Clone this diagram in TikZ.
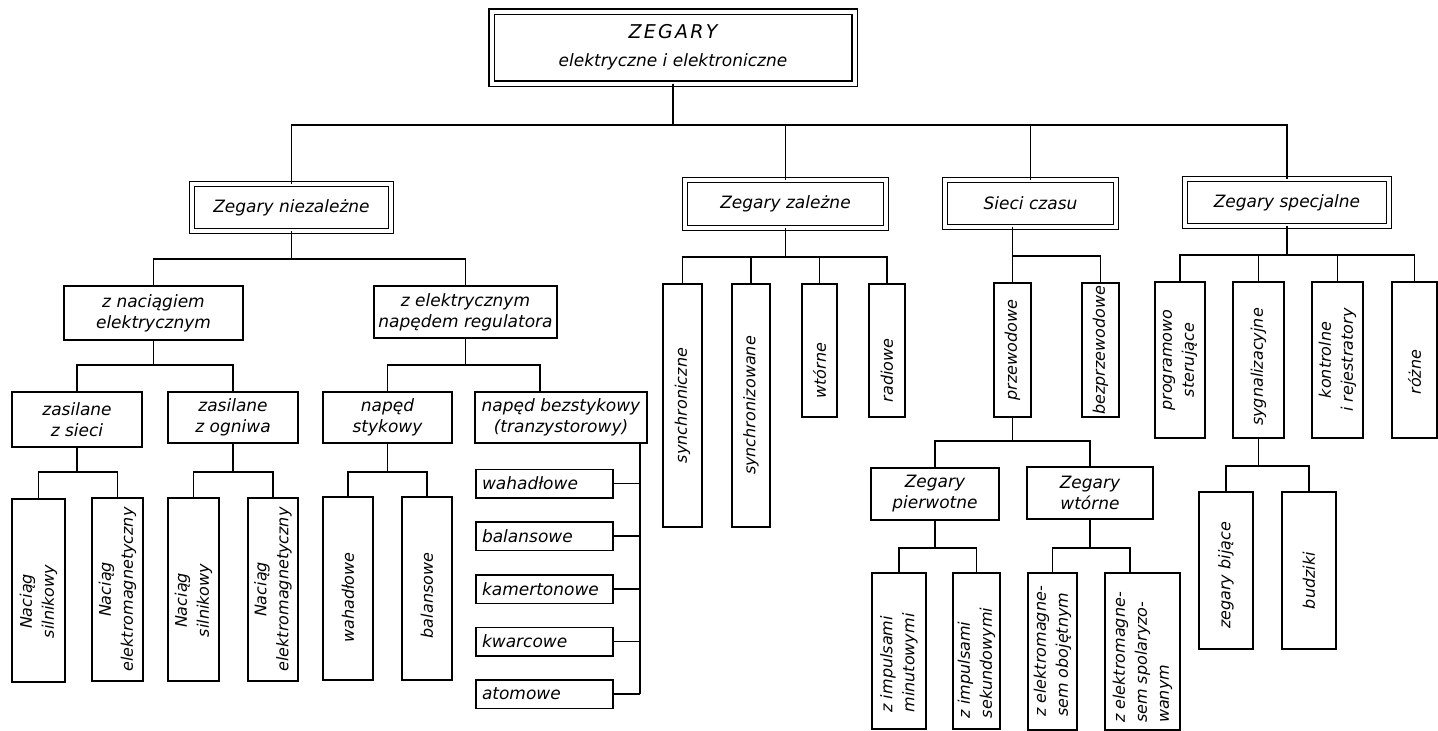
\documentclass[tikz,border=0pt]{standalone}
\usepackage{fontspec}
\setmainfont{DejaVu Sans}[ItalicFont={DejaVu Sans Oblique}]
\begin{document}
\begin{tikzpicture}[x=1pt,y=-1pt,
  every node/.style={font=\itshape\fontsize{17}{21}\selectfont, inner sep=0pt, outer sep=0pt},
  sz/.style 2 args={minimum width=#1pt, minimum height=#2pt},
  box/.style={draw, line width=1.5pt, align=center},
  dbox/.style={draw, double, double distance=4pt, line width=1.2pt, align=center},
  vtext/.style={rotate=90, align=center, font=\itshape\fontsize{16}{22}\selectfont},
  vltext/.style={vtext, align=left},
  item/.style={draw, line width=1.5pt, text width=125pt, inner xsep=6pt, align=left, minimum height=28.5pt},
  link/.style={line width=1.2pt},
]
\path[fill=white, use as bounding box] (0,0) rectangle (1438,731);

% bus levels and the side rail
\coordinate (b1) at (0,125);
\coordinate (b2) at (0,259);
\coordinate (b3) at (0,365);
\coordinate (b4) at (0,472);
\coordinate (b5) at (0,257);
\coordinate (b6) at (0,256);
\coordinate (b7) at (0,441);
\coordinate (b8) at (0,548);
\coordinate (b9) at (0,255);
\coordinate (b10) at (0,466);
\coordinate (rail) at (640,0);

% root
\node[dbox, sz={363}{72}, font=\itshape\fontsize{17}{28}\selectfont] (title) at (673,47.5)
  {{\addfontfeature{LetterSpace=12}\fontsize{19}{28}\selectfont ZEGARY}\\ elektryczne i elektroniczne};

% main groups
\node[dbox, sz={199}{47}] (nz) at (291.5,207.5) {Zegary niezależne};
\node[dbox, sz={201}{48}] (zal) at (785.5,204) {Zegary zależne};
\node[dbox, sz={171}{47}] (sc) at (1030.5,203.5) {Sieci czasu};
\node[dbox, sz={204}{47}] (spec) at (1287,202.5) {Zegary specjalne};

% independent clocks
\node[box, sz={179}{54}] (nac) at (153.5,313) {z naciągiem\\elektrycznym};
\node[box, sz={183}{52}] (reg) at (465.5,312) {z elektrycznym\\napędem regulatora};

\node[box, sz={130}{55}] (zsi) at (77,419.5) {zasilane\\z sieci};
\node[box, sz={130}{51}] (zog) at (233,417.5) {zasilane\\z ogniwa};
\node[box, sz={129}{51}] (sty) at (387.5,417.5) {napęd\\stykowy};
\node[box, sz={172}{51}] (bez) at (561,417.5) {napęd bezstykowy\\(tranzystorowy)};

\node[box, sz={53}{183}] (zs1) at (38.5,590.5) {};
\node[vtext] (zs1t) at ([yshift=-11pt]zs1.center) {Naciąg\\silnikowy};
\node[box, sz={51}{183}] (zs2) at (117.5,589.5) {};
\node[vtext] (zs2t) at (zs2.center) {Naciąg\\elektromagnetyczny};
\node[box, sz={51}{183}] (zo1) at (193.5,589.5) {};
\node[vtext] (zo1t) at ([yshift=-11pt]zo1.center) {Naciąg\\silnikowy};
\node[box, sz={50}{183}] (zo2) at (273,589.5) {};
\node[vtext] (zo2t) at (zo2.center) {Naciąg\\elektromagnetyczny};
\node[box, sz={50}{183}] (st1) at (348,588.5) {};
\node[vtext] (st1t) at ([yshift=-9pt]st1.center) {wahadłowe};
\node[box, sz={50}{183}] (st2) at (427,588.5) {};
\node[vtext] (st2t) at ([yshift=-7pt]st2.center) {balansowe};

\node[item] (bz1) at (544.5,483.5) {wahadłowe};
\node[item] (bz2) at (544.5,536) {balansowe};
\node[item] (bz3) at (544.5,589) {kamertonowe};
\node[item] (bz4) at (544.5,641.5) {kwarcowe};
\node[item] (bz5) at (544.5,694) {atomowe};

% dependent clocks
\node[box, sz={39}{243}] (syn) at (682.5,405.5) {};
\node[vtext] (synt) at (syn.center) {synchroniczne};
\node[box, sz={38}{243}] (synz) at (751,405.5) {};
\node[vtext] (synzt) at (synz.center) {synchronizowane};
\node[box, sz={35}{133}] (wt) at (819.5,350.5) {};
\node[vtext] (wtt) at ([yshift=-20pt]wt.center) {wtórne};
\node[box, sz={36}{133}] (rad) at (887,350.5) {};
\node[vtext] (radt) at ([yshift=-20pt]rad.center) {radiowe};

% time networks
\node[box, sz={37}{134}] (prz) at (1012.5,350) {};
\node[vtext] (przt) at (prz.center) {przewodowe};
\node[box, sz={37}{134}] (bprz) at (1100.5,350) {};
\node[vtext] (bprzt) at (bprz.center) {bezprzewodowe};

\node[box, sz={128}{52}] (pie) at (935,494) {Zegary\\pierwotne};
\node[box, sz={126}{52}] (wtr) at (1090,493) {Zegary\\wtórne};

\node[box, sz={54}{156}] (p1) at (899,651) {};
\node[vltext] (p1t) at ([yshift=-12pt]p1.center) {z impulsami\\minutowymi};
\node[box, sz={47}{156}] (p2) at (976.5,651) {};
\node[vltext] (p2t) at ([yshift=-12pt]p2.center) {z impulsami\\sekundowymi};
\node[box, sz={49}{157}] (w1) at (1052.5,651.5) {};
\node[vltext] (w1t) at (w1.center) {z elektromagne-\\sem obojętnym};
\node[box, sz={75}{157}] (w2) at (1142.5,651.5) {};
\node[vltext] (w2t) at ([yshift=-6pt]w2.center) {z elektromagne-\\sem spolaryzo-\\wanym};

% special clocks
\node[box, sz={50}{156}] (prog) at (1180,360) {};
\node[vtext] (progt) at (prog.center) {programowo\\sterujące};
\node[box, sz={51}{156}] (syg) at (1258.5,360) {};
\node[vtext] (sygt) at ([yshift=-7pt]syg.center) {sygnalizacyjne};
\node[box, sz={51}{156}] (kon) at (1337.5,360) {};
\node[vtext] (kont) at (kon.center) {kontrolne\\i rejestratory};
\node[box, sz={45}{156}] (roz) at (1414.5,360) {};
\node[vtext] (rozt) at ([yshift=-12pt]roz.center) {różne};

\node[box, sz={54}{157}] (bij) at (1226,570.5) {};
\node[vtext] (bijt) at ([yshift=-5pt]bij.center) {zegary bijące};
\node[box, sz={54}{157}] (bud) at (1309,570.5) {};
\node[vtext] (budt) at ([yshift=-10pt]bud.center) {budziki};

% connectors
\foreach \c in {nz,zal,sc,spec}
  \draw[link] (title.south) -- (title.south |- b1) -| (\c.north);
\foreach \c in {nac,reg}
  \draw[link] (nz.south) -- (nz.south |- b2) -| (\c.north);
\foreach \c in {zsi,zog}
  \draw[link] (nac.south) -- (nac.south |- b3) -| (\c.north);
\draw[link] (reg.south) -- (reg.south |- b3) -| (sty.north);
\draw[link] (reg.south) -- (reg.south |- b3) -| ([xshift=-21pt]bez.north);
\foreach \c in {zs1,zs2}
  \draw[link] (zsi.south) -- (zsi.south |- b4) -| (\c.north);
\foreach \c in {zo1,zo2}
  \draw[link] (zog.south) -- (zog.south |- b4) -| (\c.north);
\foreach \c in {st1,st2}
  \draw[link] (sty.south) -- (sty.south |- b4) -| (\c.north);
\draw[link] (bez.south -| rail) -- (bz5.east -| rail);
\foreach \c in {bz1,bz2,bz3,bz4,bz5}
  \draw[link] (\c.east) -- (\c.east -| rail);
\foreach \c in {syn,synz,wt,rad}
  \draw[link] (zal.south) -- (zal.south |- b5) -| (\c.north);
\draw[link] (prz.north |- sc.south) -- (prz.north);
\draw[link] (prz.north |- b6) -| (bprz.north);
\foreach \c in {pie,wtr}
  \draw[link] (prz.south) -- (prz.south |- b7) -| (\c.north);
\foreach \c in {p1,p2}
  \draw[link] (pie.south) -- (pie.south |- b8) -| (\c.north);
\draw[link] (wtr.south) -- (wtr.south |- b8) -| (w1.north);
\draw[link] (wtr.south) -- (wtr.south |- b8) -| ([xshift=-12.5pt]w2.north);
\foreach \c in {prog,syg,kon,roz}
  \draw[link] (spec.south) -- (spec.south |- b9) -| (\c.north);
\foreach \c in {bij,bud}
  \draw[link] (syg.south) -- (syg.south |- b10) -| (\c.north);
\end{tikzpicture}
\end{document}
